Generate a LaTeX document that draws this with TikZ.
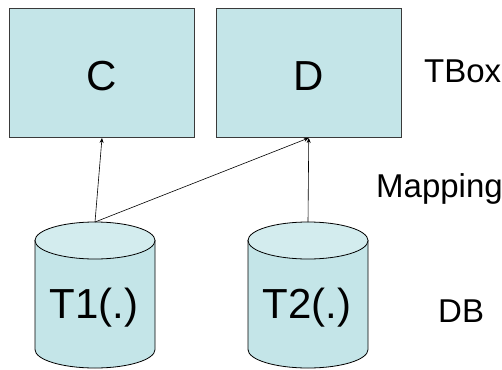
\documentclass[tikz,border=0pt]{standalone}
\usepackage{fontspec}
\setmainfont{Liberation Sans}
\usetikzlibrary{arrows.meta}
\definecolor{boxfill}{HTML}{C4E5E8}
\definecolor{capfill}{HTML}{D3ECEE}
\definecolor{boxline}{HTML}{3A3A3A}
\tikzset{
  concept/.style={draw=boxline, line width=0.9pt, fill=boxfill, inner sep=0pt},
  bigtext/.style={font=\fontsize{42}{42}\selectfont, anchor=base, inner sep=0pt},
  layer/.style={font=\fontsize{33}{33}\selectfont, anchor=base west, inner sep=0pt},
  link/.style={line width=0.6pt, -{Stealth[length=5pt,width=4pt]}},
  dbbody/.style={draw=black, line width=0.8pt, fill=boxfill},
  dbtop/.style={draw=black, line width=0.8pt, fill=capfill}
}
\newcommand{\dbcyl}[2]{% centre x, name of the top point
  \path[dbbody] ({#1-60},-240.5) -- ({#1-60},-349.5)
    arc[start angle=180, end angle=360, x radius=60, y radius=18.5]
    -- ({#1+60},-240.5) -- cycle;
  \path[dbtop] (#1,-240.5) ellipse[x radius=60, y radius=18.5];
  \coordinate (#2) at (#1,-222);
}
\begin{document}
\begin{tikzpicture}[x=1pt,y=1pt]
\useasboundingbox (0,0) rectangle (502,-369);
% TBox concepts
\node[concept, minimum width=185pt, minimum height=129pt] (c) at (102,-73) {};
\node[concept, minimum width=184.5pt, minimum height=129pt] (d) at (308.75,-73) {};
\node[bigtext] (clabel) at (102,-90) {C};
\node[bigtext] (dlabel) at (308.5,-90) {D};
% database tables
\dbcyl{95}{t1}
\dbcyl{308}{t2}
\node[bigtext] (t1label) at (94,-318) {T1(.)};
\node[bigtext] (t2label) at (307,-318) {T2(.)};
% mapping assertions
\draw[link] (t1) -- (c.south);
\draw[link] (t1) -- (d.south);
\draw[link] (t2) -- (d.south);
% layer names
\node[layer] (tbox) at (424,-82) {TBox};
\node[layer] (mapping) at (376,-197) {Mapping};
\node[layer] (db) at (438,-322) {DB};
\end{tikzpicture}
\end{document}
